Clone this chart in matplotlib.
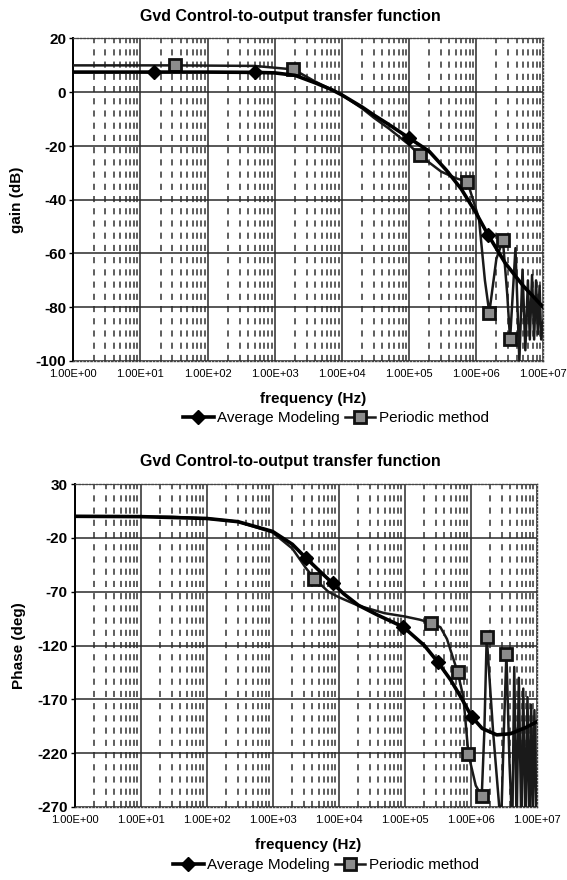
import numpy as np
import matplotlib
matplotlib.use("Agg")
import matplotlib.pyplot as plt
from matplotlib.ticker import FixedLocator, FuncFormatter, NullFormatter

plt.rcParams['font.family'] = ['Liberation Sans', 'DejaVu Sans']
plt.rcParams['axes.unicode_minus'] = False

TITLE = "Gvd Control-to-output transfer function"
SERIES = ["Average Modeling", "Periodic method"]
X_TICKS = [1e0, 1e1, 1e2, 1e3, 1e4, 1e5, 1e6, 1e7]

# ---- Gain (dB) ----
gain_avg_f = [1, 16, 100, 500, 1e3, 2e3, 4e3, 7e3, 1e4, 2e4, 3e4, 5e4, 1e5, 2e5,
              3.6e5, 6e5, 1e6, 1.5e6, 2.7e6, 5e6, 1e7]
gain_avg_v = [7.5, 7.5, 7.5, 7.4, 7.2, 6.3, 3.5, 1.0, -1.0, -5.5, -8.5, -12.0, -17.0, -22.0,
              -29.0, -36.0, -45.0, -53.0, -63.5, -72.0, -80.0]
gain_avg_marks = [1, 3, 12, 17]

gain_per_f = [1, 33, 500, 1.9e3, 4e3, 7e3, 1e4, 2e4, 3e4, 5e4, 1e5, 1.45e5, 3e5, 5e5,
              7.4e5, 1.1e6, 1.35e6, 1.57e6, 2e6, 2.5e6, 2.9e6, 3.2e6, 3.85e6, 4.4e6,
              4.9e6, 5.4e6, 5.9e6, 6.3e6, 6.8e6, 7.3e6, 7.8e6, 8.3e6, 8.8e6, 9.3e6, 1e7]
gain_per_v = [10.0, 10.0, 9.8, 8.5, 4.0, 1.0, -1.0, -6.0, -9.5, -13.5, -19.5, -23.5, -29.5, -32.0,
              -33.3, -47.0, -70.0, -82.0, -62.0, -55.0, -75.0, -92.0, -58.0, -100.0,
              -66.0, -96.0, -70.0, -92.0, -68.0, -92.0, -70.0, -90.0, -72.0, -92.0, -85.0]
gain_per_marks = [1, 3, 11, 14, 17, 19, 21]

# ---- Phase (deg) ----
ph_avg_f = [1, 10, 100, 300, 1e3, 2e3, 3.2e3, 5e3, 8.2e3, 1.2e4, 2e4, 4e4, 9.6e4, 2e5,
            3.2e5, 5e5, 7e5, 1.04e6, 1.5e6, 2.5e6, 4e6, 7e6, 1e7]
ph_avg_v = [0, -0.3, -2, -5, -14, -26, -38.6, -50, -62.4, -72, -82.6, -92, -102.8, -120,
            -135.4, -152, -167, -186, -197, -203, -202, -196, -191]
ph_avg_marks = [6, 8, 12, 14, 17]

ph_per_f = [1, 30, 100, 300, 1e3, 2e3, 3.2e3, 4.3e3, 7e3, 1e4, 2e4, 5e4, 1e5, 1.7e5,
            2.5e5, 3.5e5, 4.4e5, 6.4e5, 7.8e5, 9.3e5, 1.2e6, 1.48e6, 1.62e6, 1.76e6,
            2.2e6, 2.9e6, 3.2e6, 3.5e6, 3.9e6, 4.3e6, 4.6e6, 5e6, 5.4e6, 5.9e6, 6.3e6,
            6.8e6, 7.3e6, 7.8e6, 8.3e6, 8.8e6, 9.3e6, 1e7]
ph_per_v = [0, -0.5, -2, -5, -15, -30, -48, -57.8, -70, -75, -83, -90, -93, -96,
            -99, -103, -114, -145, -168, -221, -250, -260, -200, -112,
            -200, -290, -200, -127.6, -230, -290, -140, -290, -150, -290, -160,
            -290, -168, -290, -175, -290, -180, -280]
ph_per_marks = [7, 14, 17, 19, 21, 23, 27]


def fmt(x, pos):
    e = int(round(np.log10(x)))
    return "1.00E%s%02d" % ("+" if e >= 0 else "-", abs(e))


def style_axes(ax, ylim, yticks, ylabel):
    ax.set_xscale('log')
    ax.set_xlim(1, 1e7)
    ax.set_ylim(*ylim)
    ax.set_yticks(yticks)
    ax.xaxis.set_major_locator(FixedLocator(X_TICKS))
    ax.xaxis.set_major_formatter(FuncFormatter(fmt))
    minors = [m * 10 ** d for d in range(7) for m in range(2, 10)]
    ax.xaxis.set_minor_locator(FixedLocator(minors))
    ax.xaxis.set_minor_formatter(NullFormatter())
    ax.grid(True, which='major', axis='both', color='#2a2a2a', lw=1.1, ls='-')
    ax.grid(True, which='minor', axis='x', color='#333333', lw=1.1, ls=(0, (4, 4)))
    ax.tick_params(axis='x', which='both', length=0, labelsize=8, pad=6)
    ax.tick_params(axis='y', which='major', length=3, labelsize=11, width=1, pad=2)
    for lab in ax.get_yticklabels():
        lab.set_fontweight('bold')
    for s in ['top', 'right', 'bottom']:
        ax.spines[s].set_linestyle((0, (1, 1.5)))
        ax.spines[s].set_color('#444444')
        ax.spines[s].set_linewidth(1.0)
    ax.spines['left'].set_linewidth(1.4)
    ax.set_axisbelow(True)
    ax.set_ylabel(ylabel, fontsize=11, fontweight='bold', labelpad=2)


def plot_pair(ax, fa, va, ma, fp, vp, mp):
    la, = ax.plot(fa, va, color='black', lw=2.6, marker='D', ms=7,
                  markevery=ma, mfc='black', mec='black', zorder=4)
    lp, = ax.plot(fp, vp, color='#1a1a1a', lw=1.8, marker='s', ms=9,
                  markevery=mp, mfc='#8c8c8c', mec='#111111', mew=2.0, zorder=3)
    return la, lp


fig = plt.figure(figsize=(5.67, 8.8), dpi=100)

ax1 = fig.add_axes([73.3 / 567, 1 - 361 / 880, (543.3 - 73.3) / 567, (361 - 38.5) / 880])
style_axes(ax1, (-100, 20), [20, 0, -20, -40, -60, -80, -100], "gain (dB)")
la, lp = plot_pair(ax1, gain_avg_f, gain_avg_v, gain_avg_marks,
                   gain_per_f, gain_per_v, gain_per_marks)
ax1.yaxis.set_label_coords(-0.105, 0.5)

ax2 = fig.add_axes([74.5 / 567, 1 - 807 / 880, (536.5 - 74.5) / 567, (807 - 484) / 880])
style_axes(ax2, (-270, 30), [30, -20, -70, -120, -170, -220, -270], "Phase (deg)")
plot_pair(ax2, ph_avg_f, ph_avg_v, ph_avg_marks, ph_per_f, ph_per_v, ph_per_marks)
ax2.yaxis.set_label_coords(-0.105, 0.5)

fig.text(290 / 567, 1 - 16 / 880, TITLE, ha='center', va='center',
         fontsize=11.5, fontweight='bold')
fig.text(290 / 567, 1 - 461.7 / 880, TITLE, ha='center', va='center',
         fontsize=11.5, fontweight='bold')
fig.text(313 / 567, 1 - 399 / 880, "frequency (Hz)", ha='center', va='center',
         fontsize=11, fontweight='bold')
fig.text(308 / 567, 1 - 845 / 880, "frequency (Hz)", ha='center', va='center',
         fontsize=11, fontweight='bold')

for yc, xc in [(1 - 418 / 880, 336 / 567), (1 - 865 / 880, 326 / 567)]:
    fig.legend([la, lp], SERIES, loc='center', bbox_to_anchor=(xc, yc), ncol=2,
               frameon=False, fontsize=11, handlelength=2.0, handletextpad=0.25,
               columnspacing=0.3, borderpad=0.1)

fig.savefig("out.png", dpi=100)
